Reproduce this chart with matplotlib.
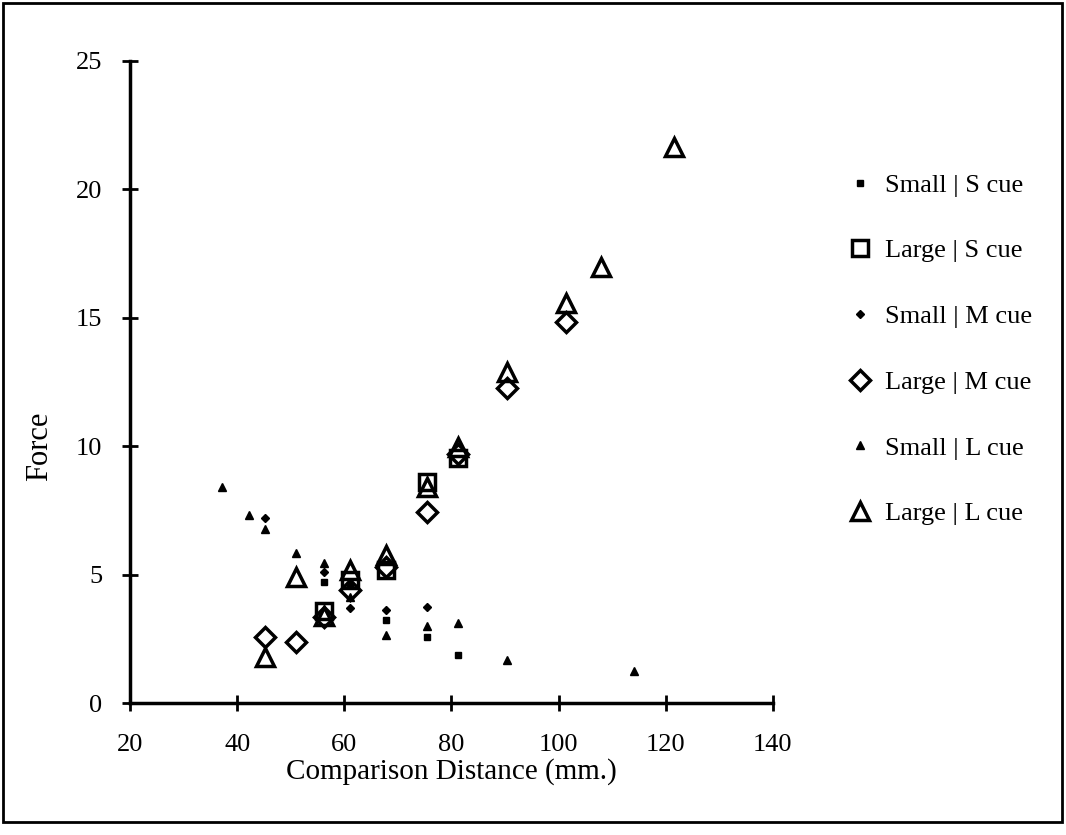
import matplotlib
matplotlib.use("Agg")
import matplotlib.pyplot as plt
from matplotlib.patches import Rectangle

plt.rcParams['font.family'] = ['Liberation Serif', 'DejaVu Serif']

# comparison distances (mm.) and force readings per condition
small_s_x = [56.2, 61.1, 67.7, 75.4, 81.3]
small_s_y = [4.72, 4.6, 3.23, 2.58, 1.87]

large_s_x = [56.2, 61.1, 67.7, 75.4, 81.3]
large_s_y = [3.6, 4.79, 5.18, 8.62, 9.53]

small_m_x = [45.2, 56.2, 61.1, 67.7, 75.4]
small_m_y = [7.2, 5.11, 3.69, 3.62, 3.73]

large_m_x = [45.2, 51.0, 56.2, 61.1, 67.7, 75.4, 81.3, 90.4, 101.4]
large_m_y = [2.58, 2.39, 3.35, 4.4, 5.3, 7.45, 9.7, 12.27, 14.85]

small_l_x = [37.2, 42.2, 45.2, 51.0, 56.2, 61.1, 67.7, 75.4, 81.3, 90.4, 114.0]
small_l_y = [8.42, 7.32, 6.76, 5.83, 5.44, 4.14, 2.65, 3.0, 3.13, 1.67, 1.25]

large_l_x = [45.2, 51.0, 56.2, 61.1, 67.7, 75.4, 81.3, 90.4, 101.4, 107.9, 121.5]
large_l_y = [1.8, 4.92, 3.4, 5.18, 5.76, 8.42, 9.98, 12.9, 15.58, 16.99, 21.65]

fig = plt.figure(figsize=(10.66, 8.35), dpi=100)
ax = fig.add_axes([0.122, 0.158, 0.603, 0.769])

ax.plot(small_s_x, small_s_y, 's', color='black', markersize=5, label='Small | S cue')
ax.plot(large_s_x, large_s_y, 's', mfc='none', mec='black', markersize=11, mew=2.5, label='Large | S cue')
ax.plot(small_m_x, small_m_y, 'D', color='black', markersize=4.5, label='Small | M cue')
ax.plot(large_m_x, large_m_y, 'D', mfc='none', mec='black', markersize=10, mew=2.5, label='Large | M cue')
ax.plot(small_l_x, small_l_y, '^', color='black', markersize=6, label='Small | L cue')
ax.plot(large_l_x, large_l_y, '^', mfc='none', mec='black', markersize=13, mew=2.5, label='Large | L cue')

ax.set_xlim(20, 140)
ax.set_ylim(0, 25)
ax.set_xticks(range(20, 141, 20))
ax.set_yticks(range(0, 26, 5))
ax.spines['top'].set_visible(False)
ax.spines['right'].set_visible(False)
ax.spines['left'].set_linewidth(2.5)
ax.spines['bottom'].set_linewidth(2.5)
ax.tick_params(direction='inout', length=12, width=2, labelsize=19)
ax.tick_params(axis='x', pad=16)
ax.tick_params(axis='y', pad=14)

ax.set_xlabel('Comparison Distance (mm.)', fontsize=21)
ax.xaxis.set_label_coords(0.5, -0.086)
ax.set_ylabel('Force', fontsize=22)
ax.yaxis.set_label_coords(-0.118, 0.40)

ax.legend(loc='upper left', bbox_to_anchor=(1.078, 0.862), frameon=False,
          fontsize=19, labelspacing=1.6, handletextpad=0.45, handlelength=1.0)

fig.add_artist(Rectangle((0.003, 0.016), 0.993, 0.98, transform=fig.transFigure,
                         fill=False, edgecolor='black', linewidth=2))

fig.savefig('out.png', dpi=100)
